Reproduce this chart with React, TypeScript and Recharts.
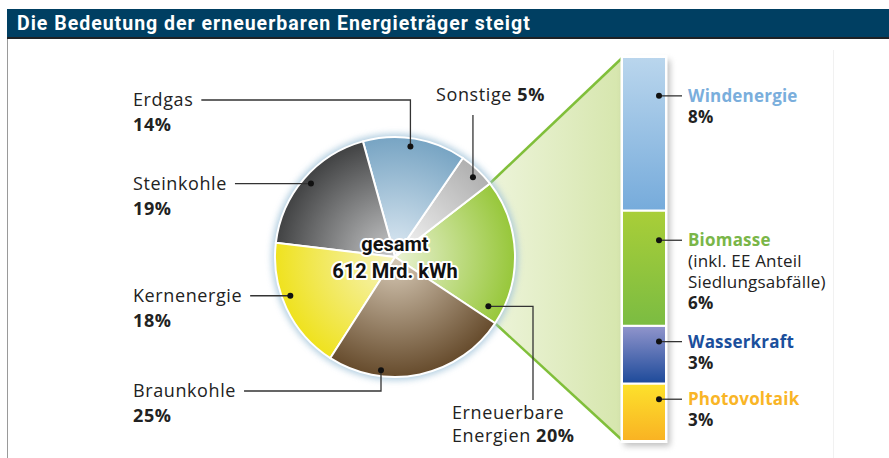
import React from 'react';
import { PieChart, Pie, Cell, BarChart, Bar, XAxis, YAxis } from 'recharts';

document.body.style.margin = '0';

const W = 889;
const H = 458;

// Bruttostromerzeugung nach Energieträgern (Anteile in %), gegen den Uhrzeigersinn
const sources = ['Erneuerbare Energien', 'Sonstige', 'Erdgas', 'Steinkohle', 'Kernenergie', 'Braunkohle'];
const shares = [20, 5, 14, 19, 18, 25];

// Anteile der erneuerbaren Energien, von unten nach oben gestapelt
const eeSources = ['Photovoltaik', 'Wasserkraft', 'Biomasse', 'Windenergie'];
const eeShares = [3, 3, 6, 8];
const eeNotes: Record<string, string[]> = { Biomasse: ['(inkl. EE Anteil', 'Siedlungsabfälle)'] };

const titleText = 'Die Bedeutung der erneuerbaren Energieträger steigt';
const centerLines = ['gesamt', '612 Mrd. kWh'];

const pieData = sources.map((name, i) => ({ name, value: shares[i] }));
const barRow: Record<string, any> = { name: 'EE' };
eeSources.forEach((s, i) => { barRow[s] = eeShares[i]; });
const barData = [barRow];

// geometry
const CX = 395;
const CY = 257;
const R = 120;
const START = -33.5;
const BAR_L = 622;
const BAR_R = 666;
const BAR_T = 57;
const BAR_B = 441;

const FONT = '"Open Sans", "Noto Sans", sans-serif';
const INK = '#222';

const pieColors: Record<string, [string, string]> = {
  'Erneuerbare Energien': ['#e6f0cc', '#97c73a'],
  Sonstige: ['#f4f4f4', '#b0b0b0'],
  Erdgas: ['#dae7f1', '#77a4c3'],
  Steinkohle: ['#c3c4c5', '#414243'],
  Kernenergie: ['#f6f3b8', '#efe21e'],
  Braunkohle: ['#d3c5b1', '#664b2c'],
};

const barColors: Record<string, [string, string, string]> = {
  Windenergie: ['#bad6ed', '#76abdb', '#7aaedc'],
  Biomasse: ['#a9ce38', '#7bbc42', '#7ab648'],
  Wasserkraft: ['#9195cc', '#1d4a9a', '#1b4f9c'],
  Photovoltaik: ['#fde22c', '#f9b223', '#f9b526'],
};

// label placement around the pie
const labelLayout: Record<string, any> = {
  Erdgas: { kind: 'left', x: 133, base: 106, shift: 1.5, rr: 0.93 },
  Steinkohle: { kind: 'left', x: 133, shift: -0.5, rr: 0.93 },
  Kernenergie: { kind: 'left', x: 133, shift: -5, rr: 0.93 },
  Braunkohle: { kind: 'left', x: 133, base: 397, shift: -19, rr: 0.95 },
  Sonstige: { kind: 'top', x: 436, base: 101, shift: -1, rr: 0.93 },
  'Erneuerbare Energien': { kind: 'bottom', x: 452, base: 419, shift: -30, rr: 0.88, elbowX: 533 },
};

const ctx = document.createElement('canvas').getContext('2d') as CanvasRenderingContext2D;
const textW = (s: string, font: string, ls = 0) => {
  ctx.font = font;
  return ctx.measureText(s).width + ls * s.length;
};

const polar = (cx: number, cy: number, r: number, deg: number) => ({
  x: cx + r * Math.cos((-deg * Math.PI) / 180),
  y: cy + r * Math.sin((-deg * Math.PI) / 180),
});

const LS = 0.6;

const renderPieLabel = (p: any) => {
  const name = p.name ?? p.payload?.name;
  const L = labelLayout[name];
  if (!L) return null;
  const dot = polar(p.cx, p.cy, p.outerRadius * L.rr, p.midAngle + L.shift);
  const pct = `${p.value ?? p.payload?.value}%`;
  const tStyle = { fontFamily: FONT, fontSize: 18, letterSpacing: LS, fill: INK } as any;
  let path = '';
  let texts: React.ReactNode = null;
  if (L.kind === 'left') {
    const base = L.base ?? dot.y + 6;
    const lineY = base - 6;
    const x0 = L.x + textW(name, `18px ${FONT}`, LS) + 8;
    path = `M${x0},${lineY} H${dot.x} V${dot.y}`;
    texts = (
      <>
        <text x={L.x} y={base} style={tStyle}>{name}</text>
        <text x={L.x} y={base + 25} style={{ ...tStyle, fontWeight: 700 }}>{pct}</text>
      </>
    );
  } else if (L.kind === 'top') {
    path = `M${dot.x},${L.base + 14} V${dot.y}`;
    texts = (
      <text x={L.x} y={L.base} style={tStyle}>
        {name} <tspan style={{ fontWeight: 700 }}>{pct}</tspan>
      </text>
    );
  } else {
    path = `M${dot.x},${dot.y} H${L.elbowX} V${L.base - 19}`;
    const words = name.split(' ');
    texts = (
      <>
        <text x={L.x} y={L.base} style={tStyle}>{words[0]}</text>
        <text x={L.x} y={L.base + 23} style={tStyle}>
          {words[1]} <tspan style={{ fontWeight: 700 }}>{pct}</tspan>
        </text>
      </>
    );
  }
  return (
    <g key={`lbl-${name}`}>
      <path d={path} fill="none" stroke="#333" strokeWidth={1.3} />
      <circle cx={dot.x} cy={dot.y} r={3} fill="#111" />
      {texts}
    </g>
  );
};

const makeBarLabel = (name: string) => (p: any) => {
  const x = Number(p.x), y = Number(p.y), w = Number(p.width), h = Number(p.height);
  const dotX = x + w - 7;
  const dotY = y + h * 0.24 + 2;
  const tx = x + w + 22;
  const base = dotY + 6;
  const notes = eeNotes[name] ?? [];
  const st = { fontFamily: FONT, fontSize: 17, letterSpacing: 0.2, fill: INK } as any;
  const idx = eeSources.indexOf(name);
  return (
    <g key={`bl-${name}`}>
      <path d={`M${dotX},${dotY} H${x + w + 16}`} stroke="#333" strokeWidth={1.3} />
      <circle cx={dotX} cy={dotY} r={3} fill="#111" />
      <text x={tx} y={base} style={{ ...st, fontWeight: 700, fill: barColors[name][2] }}>{name}</text>
      {notes.map((n, i) => (
        <text key={n} x={tx} y={base + 21 * (i + 1)} style={st}>{n}</text>
      ))}
      <text x={tx} y={base + 21 * (notes.length + 1)} style={{ ...st, fontWeight: 700 }}>{`${eeShares[idx]}%`}</text>
    </g>
  );
};

export default function App() {
  const total = shares.reduce((a, b) => a + b, 0);
  const p2 = polar(CX, CY, R, START);
  const p1 = polar(CX, CY, R, START + (360 * shares[0]) / total);
  const abs: React.CSSProperties = { position: 'absolute', left: 0, top: 0 };

  return (
    <div style={{ position: 'relative', width: W, height: H, background: '#fff', overflow: 'hidden' }}>
      <svg width={W} height={H} style={abs}>
        <defs>
          <filter id="blur3" x="-20%" y="-20%" width="140%" height="140%">
            <feGaussianBlur stdDeviation="3" />
          </filter>
          <linearGradient id="funnel" gradientUnits="userSpaceOnUse" x1={p1.x} y1={0} x2={BAR_L} y2={0}>
            <stop offset="0%" stopColor="#edf4da" />
            <stop offset="100%" stopColor="#d6e6ad" />
          </linearGradient>
          {sources.map((s, i) => (
            <radialGradient key={s} id={`pg-${i}`} gradientUnits="userSpaceOnUse" cx={CX} cy={CY} r={R}>
              <stop offset="5%" stopColor={pieColors[s][0]} />
              <stop offset="100%" stopColor={pieColors[s][1]} />
            </radialGradient>
          ))}
          {eeSources.map((s, i) => (
            <linearGradient key={s} id={`bg-${i}`} x1="0" y1="0" x2="0" y2="1">
              <stop offset="0%" stopColor={barColors[s][0]} />
              <stop offset="100%" stopColor={barColors[s][1]} />
            </linearGradient>
          ))}
        </defs>
        <line x1={7.5} y1={38} x2={7.5} y2={H} stroke="#9a9a9a" strokeWidth={1} />
        <line x1={833.5} y1={50} x2={833.5} y2={H} stroke="#f1f1f1" strokeWidth={1} />
        <polygon points={`${p1.x},${p1.y} ${BAR_L},${BAR_T} ${BAR_L},${BAR_B} ${p2.x},${p2.y}`} fill="url(#funnel)" />
        <line x1={p1.x} y1={p1.y} x2={BAR_L} y2={BAR_T + 1} stroke="#80bf3a" strokeWidth={2.5} />
        <line x1={p2.x} y1={p2.y} x2={BAR_L} y2={BAR_B - 1} stroke="#80bf3a" strokeWidth={2.5} />
        <circle cx={CX} cy={CY} r={R + 3.5} fill="#a3c4da" opacity={0.8} filter="url(#blur3)" />
        <rect x={BAR_L + 2} y={BAR_T + 3} width={BAR_R - BAR_L + 2} height={BAR_B - BAR_T + 2} fill="#8a8a8a" opacity={0.55} filter="url(#blur3)" />
        <rect x={BAR_L - 1.5} y={BAR_T - 2} width={BAR_R - BAR_L + 3} height={BAR_B - BAR_T + 4} fill="#fff" />
      </svg>

      <div
        style={{
          position: 'absolute', left: 7, top: 9, right: 0, height: 28,
          background: '#003f62', borderBottom: '2px solid #1e2225', color: '#fff',
          fontFamily: 'Roboto, sans-serif', fontWeight: 700, fontSize: 19.5, lineHeight: '29px',
          paddingLeft: 10, letterSpacing: 1.0, whiteSpace: 'nowrap',
        }}
      >
        {titleText}
      </div>

      <div style={abs}>
        <PieChart width={W} height={H} margin={{ top: 0, right: 0, bottom: 0, left: 0 }}>
          <Pie
            data={pieData}
            dataKey="value"
            nameKey="name"
            cx={CX}
            cy={CY}
            outerRadius={R}
            startAngle={START}
            endAngle={START + 360}
            stroke="#fff"
            strokeWidth={2}
            label={renderPieLabel}
            labelLine={false}
            isAnimationActive={false}
          >
            {pieData.map((d, i) => (
              <Cell key={d.name} fill={`url(#pg-${i})`} />
            ))}
          </Pie>
        </PieChart>
      </div>

      <div style={abs}>
        <BarChart
          width={W}
          height={H}
          data={barData}
          margin={{ top: BAR_T, right: W - BAR_R, bottom: H - BAR_B, left: BAR_L }}
          barCategoryGap={0}
          barGap={0}
        >
          <XAxis dataKey="name" hide />
          <YAxis hide domain={[0, 20]} />
          {eeSources.map((s, i) => (
            <Bar
              key={s}
              dataKey={s}
              stackId="ee"
              fill={`url(#bg-${i})`}
              stroke="#fff"
              strokeWidth={2}
              label={makeBarLabel(s)}
              isAnimationActive={false}
            />
          ))}
        </BarChart>
      </div>

      <svg width={W} height={H} style={{ ...abs, pointerEvents: 'none' }}>
        {centerLines.map((t, i) => (
          <text
            key={t}
            x={CX}
            y={251 + i * 27}
            textAnchor="middle"
            style={{
              fontFamily: 'Roboto, sans-serif', fontWeight: 700, fontSize: 20, fill: '#111',
              stroke: '#fff', strokeWidth: 4, strokeLinejoin: 'round', paintOrder: 'stroke',
            } as any}
          >
            {t}
          </text>
        ))}
      </svg>
    </div>
  );
}
